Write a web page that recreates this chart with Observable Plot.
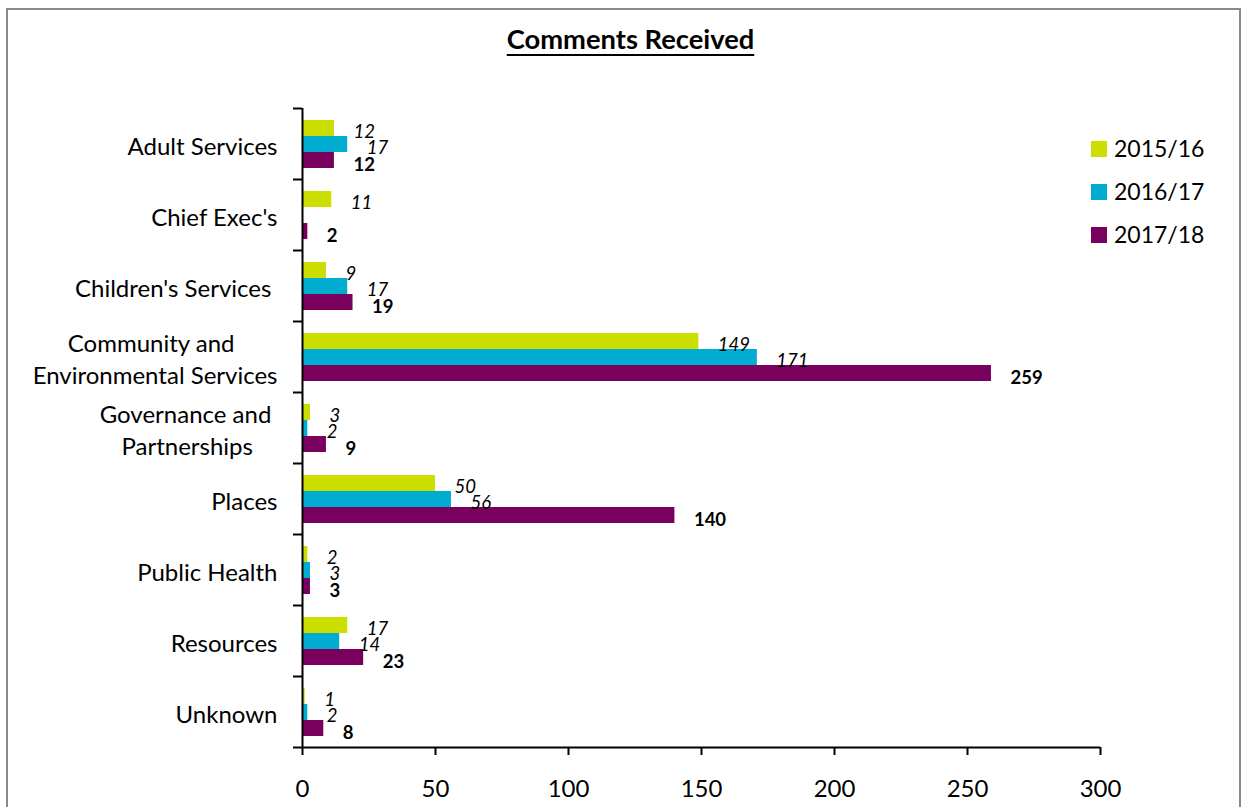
<!DOCTYPE html>
<html>
<head>
<meta charset="utf-8">
<script src="https://cdn.jsdelivr.net/npm/d3@7"></script>
<script src="https://cdn.jsdelivr.net/npm/@observablehq/plot@0.6"></script>
<style>
  body { margin: 0; background: #fff; font-family: Lato, "Open Sans", sans-serif; }
  #wrap { position: relative; width: 1242px; height: 807px; overflow: hidden; background: #fff; }
  #border { position: absolute; left: 6px; top: 8px; width: 1231px; height: 830px; border: 2px solid #8a8a8a; }
  #chart { position: absolute; left: 0; top: 0; }
  #title { position: absolute; left: 0; top: 25px; width: 1261px; text-align: center; font-size: 27.3px; font-weight: bold; line-height: 1; text-decoration: underline; text-decoration-thickness: 2px; text-underline-offset: 5px; color: #000; }
  .sw { position: absolute; width: 16px; height: 16px; }
  .lt { position: absolute; font-size: 23px; line-height: 1; color: #000; white-space: nowrap; }
</style>
</head>
<body>
<div id="wrap">
  <div id="border"></div>
  <div id="chart"></div>
  <div id="title">Comments Received</div>
  <div id="legend"></div>
</div>
<script>
// ---- data ----
const categories = [
  "Adult Services",
  "Chief Exec's",
  "Children's Services\u00a0",
  "Community and\u00a0\u00a0\u00a0\u00a0\u00a0\u00a0\u00a0\nEnvironmental Services",
  "Governance and\u00a0\nPartnerships\u00a0\u00a0\u00a0\u00a0",
  "Places",
  "Public Health",
  "Resources",
  "Unknown"
];
const years = ["2015/16", "2016/17", "2017/18"];
const colors = ["#ccdd00", "#00acd0", "#7a005e"];
const values2015 = [12, 11, 9, 149, 3, 50, 2, 17, 1];
const values2016 = [17, null, 17, 171, 2, 56, 3, 14, 2];
const values2017 = [12, 2, 19, 259, 9, 140, 3, 23, 8];
const xTicks = [0, 50, 100, 150, 200, 250, 300];

// ---- build ----
const series = [values2015, values2016, values2017].map((vals, k) =>
  categories.map((c, i) => ({category: c, year: years[k], value: vals[i]})).filter(d => d.value != null)
);

const insetTops = [12, 28, 44];
const insetBottoms = [43, 27, 11];
const labelDy = [-11.5, 4.5, 21];

const marks = [];
series.forEach((rows, k) => {
  marks.push(Plot.barX(rows, {x: "value", y: "category", fill: colors[k], insetTop: insetTops[k], insetBottom: insetBottoms[k]}));
});
series.forEach((rows, k) => {
  marks.push(Plot.text(rows, {
    x: "value", y: "category", text: d => String(d.value),
    textAnchor: "start", dx: 19, dy: labelDy[k], fontSize: 18.5,
    fontStyle: k < 2 ? "italic" : "normal", fontWeight: k === 2 ? "bold" : "normal", fill: "#000"
  }));
});
// y axis line and category boundary ticks
marks.push(Plot.ruleX([0], {stroke: "#000", strokeWidth: 2}));
marks.push(Plot.ruleY(categories, {y: d => d, x1: 0, x2: 0, insetLeft: -9, dy: -35.5, stroke: "#000", strokeWidth: 2}));
// x axis line
marks.push(Plot.ruleY([categories[categories.length - 1]], {y: d => d, x1: 0, x2: 300, insetLeft: -9, dy: 35.5, stroke: "#000", strokeWidth: 2}));
marks.push(Plot.axisX(xTicks, {label: null, tickSize: 8, tickPadding: 24, fontSize: 24, strokeWidth: 2, stroke: "#000", fill: "#000"}));
// category labels
marks.push(Plot.text(categories, {
  y: d => d, text: d => d, frameAnchor: "left", textAnchor: "end",
  dx: -25, dy: 1, fontSize: 24, lineHeight: 1.33, fill: "#000"
}));

const chart = Plot.plot({
  width: 1242,
  height: 807,
  marginLeft: 302,
  marginRight: 142,
  marginTop: 108,
  marginBottom: 60,
  x: {domain: [0, 300], axis: null},
  y: {domain: categories, axis: null, padding: 0},
  style: {fontFamily: "Lato, 'Open Sans', sans-serif", background: "transparent", color: "#000"},
  marks
});
document.getElementById("chart").appendChild(chart);

// legend
const legend = d3.select("#legend");
years.forEach((y, k) => {
  const top = 141 + k * 43;
  legend.append("div").attr("class", "sw").style("left", "1091px").style("top", top + "px").style("background", colors[k]);
  legend.append("div").attr("class", "lt").style("left", "1114px").style("top", (top - 3.7) + "px").text(y);
});
</script>
</body>
</html>
